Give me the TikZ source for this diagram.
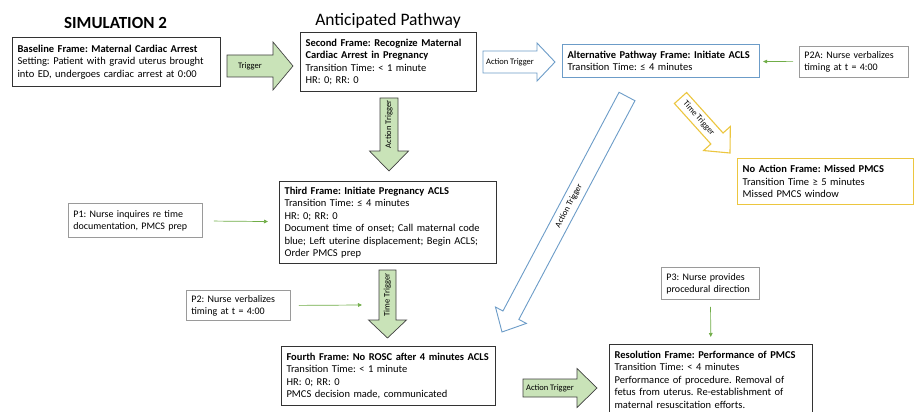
\documentclass[tikz,border=0pt]{standalone}
\usepackage{fontspec}
\setmainfont{Carlito}
\usetikzlibrary{calc,arrows.meta}
\frenchspacing
\definecolor{gfill}{HTML}{C9E3B8}
\definecolor{gline}{HTML}{70AD47}
\definecolor{bline}{HTML}{6C9CC8}
\definecolor{yline}{HTML}{ECC63F}
\definecolor{pline}{HTML}{9A9A9A}
\definecolor{fline}{HTML}{333333}
\newcommand\ftxt{\fontsize{10.5}{12.5}\selectfont\frenchspacing}
\newcommand\ptxt{\fontsize{10}{12}\selectfont\frenchspacing}
\newcommand\lbltxt{\fontsize{8.5}{10}\selectfont}
% #1 style, #2 tail coord, #3 tip coord, #4 shaft half width, #5 head half width, #6 head length, #7 label, #8 label rotation
\newcommand\blockarrow[8]{%
  \coordinate (#2-h) at ($(#3)!#6!(#2)$);
  \draw[#1] ($(#2)!#4!90:(#3)$) -- ($(#2-h)!#4!90:(#3)$) -- ($(#2-h)!#5!90:(#3)$) -- (#3)
     -- ($(#2-h)!#5!-90:(#3)$) -- ($(#2-h)!#4!-90:(#3)$) -- ($(#2)!#4!-90:(#3)$) -- cycle;
  \path (#2) -- (#2-h) node[midway, rotate=#8, font=\lbltxt, inner sep=0pt] (#2-lbl) {#7};
}
\begin{document}
\begin{tikzpicture}[x=1pt,y=-1pt,
  frame/.style={draw=fline, line width=1.1pt, fill=white, align=left, inner xsep=5pt, inner ysep=0pt, anchor=north west, font=\ftxt},
  pbox/.style={draw=pline, line width=0.8pt, fill=white, align=left, inner xsep=5pt, inner ysep=0pt, anchor=north west, font=\ptxt},
  garrow/.style={draw=black!75, line width=0.7pt, fill=gfill, line join=miter},
  barrow/.style={draw=bline, line width=0.9pt, fill=white, line join=miter},
  yarrow/.style={draw=yline, line width=1.1pt, fill=white, line join=miter},
  gar/.style={draw=gline, line width=0.7pt, -{Triangle[length=4pt,width=3.6pt]}}
]
\useasboundingbox (0,0) rectangle (922,412);
\fill[white] (0,0) rectangle (922,412);

\node[font=\bfseries\fontsize{17}{20}\selectfont, anchor=base] (title) at (115.5,28.5) {SIMULATION 2};
\node[font=\fontsize{17.5}{20}\selectfont, anchor=base] (subtitle) at (388,25.5) {Anticipated Pathway};

% frames
\node[frame, text width=198pt, minimum height=49pt] (base) at (12,37)
  {\textbf{Baseline Frame: Maternal Cardiac Arrest}\\Setting: Patient with gravid uterus brought\\into ED, undergoes cardiac arrest at 0:00};
\node[frame, text width=166pt, minimum height=59pt] (second) at (300,32)
  {\textbf{Second Frame: Recognize Maternal}\\\textbf{Cardiac Arrest in Pregnancy}\\Transition Time: < 1 minute\\HR: 0; RR: 0};
\node[frame, text width=207pt, minimum height=82pt] (third) at (279,181)
  {\textbf{Third Frame: Initiate Pregnancy ACLS}\\Transition Time: ≤ 4 minutes\\HR: 0; RR: 0\\Document time of onset; Call maternal code\\blue; Left uterine displacement; Begin ACLS;\\Order PMCS prep};
\node[frame, text width=204pt, minimum height=59pt] (fourth) at (281,346)
  {\textbf{Fourth Frame: No ROSC after 4 minutes ACLS}\\Transition Time: < 1 minute\\HR: 0; RR: 0\\PMCS decision made, communicated};
\node[frame, draw=bline, text width=187pt, minimum height=33pt] (alt) at (562,44)
  {\textbf{Alternative Pathway Frame: Initiate ACLS}\\Transition Time: ≤ 4 minutes};
\node[frame, draw=yline, line width=1.4pt, text width=166pt, minimum height=46pt] (noact) at (737,158)
  {\textbf{No Action Frame: Missed PMCS}\\Transition Time ≥ 5 minutes\\Missed PMCS window};
\node[frame, text width=193pt, minimum height=70pt] (res) at (609,344)
  {\textbf{Resolution Frame: Performance of PMCS}\\Transition Time: < 4 minutes\\Performance of procedure. Removal of\\fetus from uterus. Re-establishment of\\maternal resuscitation efforts.};

% prompt boxes
\node[pbox, text width=99pt, minimum height=31pt] (p2a) at (799,46) {P2A: Nurse verbalizes\\timing at t = 4:00};
\node[pbox, text width=124pt, minimum height=34pt] (p1) at (68,203) {P1: Nurse inquires re time\\documentation, PMCS prep};
\node[pbox, text width=94pt, minimum height=30pt] (p2) at (186,290) {P2: Nurse verbalizes\\timing at t = 4:00};
\node[pbox, text width=88pt, minimum height=32pt] (p3) at (661,267) {P3: Nurse provides\\procedural direction};

% block arrows
\coordinate (trigA) at (227,66);  \coordinate (trigB) at (293,66);
\blockarrow{garrow}{trigA}{trigB}{11pt}{24pt}{20pt}{Trigger}{0}
\coordinate (actHA) at (483,62);  \coordinate (actHB) at (555,62);
\blockarrow{barrow}{actHA}{actHB}{11pt}{19pt}{18pt}{Action Trigger}{0}
\coordinate (actVA) at (389,98);  \coordinate (actVB) at (389,171);
\blockarrow{garrow}{actVA}{actVB}{9pt}{19.5pt}{20pt}{Action Trigger}{90}
\coordinate (timeVA) at (387.5,270);  \coordinate (timeVB) at (387.5,338);
\blockarrow{garrow}{timeVA}{timeVB}{8.5pt}{19pt}{18pt}{Time Trigger}{90}
\coordinate (actH2A) at (523,388);  \coordinate (actH2B) at (597,388);
\blockarrow{garrow}{actH2A}{actH2B}{9pt}{19.5pt}{20pt}{Action Trigger}{0}
\coordinate (actDA) at (627,96.5);  \coordinate (actDB) at (502,332);
\blockarrow{barrow}{actDA}{actDB}{9pt}{17.5pt}{19pt}{Action Trigger}{62}
\coordinate (timeDA) at (680.5,98);  \coordinate (timeDB) at (730,153);
\blockarrow{yarrow}{timeDA}{timeDB}{8.2pt}{18pt}{19.5pt}{Time Trigger}{-48}

% small green arrows
\draw[gar, shorten <=6pt, shorten >=3pt] (p2a) -- (alt);
\draw[gar, shorten <=11pt, shorten >=11pt] (p1) -- (third);
\coordinate (p2end) at (362,305);
\draw[gar] ([xshift=8pt]p2.east) -- (p2end);
\draw[gar, shorten <=7pt, shorten >=7pt] (p3) -- (res);
\end{tikzpicture}
\end{document}
